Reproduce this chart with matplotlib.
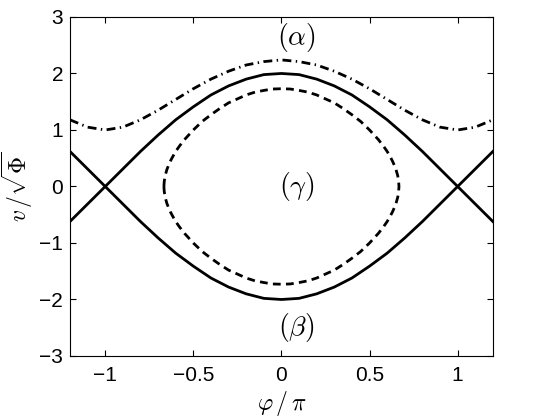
import numpy as np
import matplotlib
matplotlib.use("Agg")
import matplotlib.pyplot as plt

plt.rcParams['mathtext.fontset'] = 'cm'
plt.rcParams['font.family'] = ['Liberation Sans', 'DejaVu Sans']

# separatrice (branche superieure, l'autre est l'opposee)
x_sep = [-1.2, -1.1, -1.0, -0.9, -0.8, -0.7, -0.6, -0.5, -0.4, -0.3, -0.2, -0.1, 0.0,
         0.1, 0.2, 0.3, 0.4, 0.5, 0.6, 0.7, 0.8, 0.9, 1.0, 1.1, 1.2]
v_sep = [-0.62, -0.31, 0.0, 0.31, 0.62, 0.91, 1.18, 1.41, 1.62, 1.78, 1.90, 1.98, 2.0,
         1.98, 1.90, 1.78, 1.62, 1.41, 1.18, 0.91, 0.62, 0.31, 0.0, -0.31, -0.62]

# orbite de rotation (alpha), trait mixte
x_rot = x_sep
v_rot = [1.18, 1.05, 1.0, 1.05, 1.18, 1.35, 1.54, 1.73, 1.90, 2.04, 2.15, 2.21, 2.24,
         2.21, 2.15, 2.04, 1.90, 1.73, 1.54, 1.35, 1.18, 1.05, 1.0, 1.05, 1.18]

# orbite fermee (gamma), demi-branche x >= 0
x_lib = [0.0, 0.05, 0.1, 0.15, 0.2, 0.25, 0.3, 0.35, 0.4, 0.45, 0.5, 0.55, 0.58,
         0.6, 0.62, 0.63, 0.64, 0.65, 0.66, 0.665, 0.667]
v_lib = [1.73, 1.725, 1.70, 1.67, 1.62, 1.55, 1.48, 1.38, 1.27, 1.15, 1.0, 0.83, 0.71,
         0.62, 0.51, 0.45, 0.38, 0.30, 0.19, 0.09, 0.0]

fig = plt.figure(figsize=(5.45, 4.17), dpi=100)
ax = fig.add_axes([0.1284, 0.1463, 0.776, 0.813])

ax.plot(x_sep, v_sep, color='black', lw=2.0)
ax.plot(x_sep, -np.array(v_sep), color='black', lw=2.0)
ax.plot(x_rot, v_rot, color='black', lw=2.0, dashes=(3.2, 1.6, 0.5, 1.6))

# boucle fermee : haut de gauche a droite puis bas de droite a gauche
xl = np.array(x_lib)
vl = np.array(v_lib)
x_loop = np.concatenate([-xl[::-1], xl[1:], xl[::-1][1:], -xl[1:]])
v_loop = np.concatenate([vl[::-1], vl[1:], -vl[::-1][1:], -vl[1:]])
ax.plot(x_loop, v_loop, color='black', lw=2.0, dashes=(2.8, 1.9))

ax.text(0.085, 2.63, r'$(\alpha)$', fontsize=20, ha='center', va='center')
ax.text(0.085, -2.5, r'$(\beta)$', fontsize=20, ha='center', va='center')
ax.text(0.085, 0.0, r'$(\gamma)$', fontsize=20, ha='center', va='center')

ax.set_xlim(-1.2, 1.2)
ax.set_ylim(-3, 3)
ax.set_xticks([-1, -0.5, 0, 0.5, 1])
ax.set_xticklabels(['\u22121', '\u22120.5', '0', '0.5', '1'])
ax.set_yticks([-3, -2, -1, 0, 1, 2, 3])
ax.tick_params(direction='in', top=True, right=True, length=4, width=0.8,
               labelsize=15)
ax.tick_params(axis='x', pad=7)
ax.tick_params(axis='y', pad=5)
for s in ax.spines.values():
    s.set_linewidth(0.8)

ax.set_xlabel(r'$\varphi\,/\,\pi$', fontsize=17, labelpad=3)
ax.set_ylabel(r'$v\,/\sqrt{\Phi}$', fontsize=17, labelpad=3)

fig.savefig("out.png", dpi=100)
